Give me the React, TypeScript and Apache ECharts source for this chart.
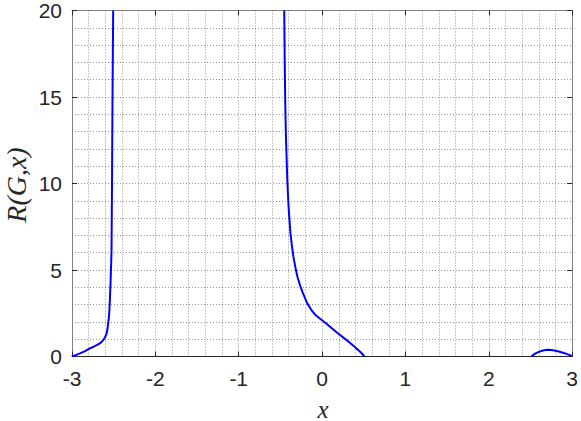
import React, { useEffect, useRef } from "react";
import * as echarts from "echarts";

const xTicks = [-3, -2, -1, 0, 1, 2, 3];
const yTicks = [0, 5, 10, 15, 20];

const leftX = [-3, -2.95, -2.904, -2.85, -2.785, -2.735, -2.685, -2.65, -2.626, -2.605, -2.585, -2.574, -2.566, -2.559, -2.554, -2.546, -2.538, -2.532, -2.526, -2.523, -2.52, -2.517, -2.514, -2.51, -2.506];
const leftY = [0, 0.09, 0.18, 0.3, 0.47, 0.58, 0.7, 0.82, 0.95, 1.1, 1.33, 1.6, 1.91, 2.2, 2.48, 3.2, 4.2, 5.1, 6.1, 8, 10, 12.5, 15, 17.5, 20];

const midX = [-0.454, -0.448, -0.442, -0.435, -0.427, -0.418, -0.406, -0.393, -0.379, -0.362, -0.345, -0.32, -0.295, -0.265, -0.235, -0.205, -0.176, -0.13, -0.076, 0.0, 0.06, 0.12, 0.2, 0.283, 0.34, 0.403, 0.46, 0.51];
const midY = [20, 17, 14.7, 13, 11.7, 10.3, 9.0, 8.0, 7.1, 6.4, 5.8, 5.15, 4.6, 4.12, 3.72, 3.37, 3.06, 2.7, 2.38, 2.1, 1.86, 1.62, 1.3, 0.99, 0.76, 0.51, 0.26, 0];

const rightX = [2.51, 2.55, 2.6, 2.65, 2.7, 2.75, 2.8, 2.85, 2.9, 2.95, 3.0];
const rightY = [0, 0.15, 0.27, 0.35, 0.39, 0.38, 0.33, 0.27, 0.2, 0.12, 0.02];

const pairs = (xs: number[], ys: number[]) => xs.map((x, i) => [x, ys[i]]);

export default function App() {
  const ref = useRef<HTMLDivElement>(null);
  useEffect(() => {
    if (!ref.current) return;
    const chart = echarts.init(ref.current, null, { renderer: "svg" });
    const gridStyle = { color: "rgba(38,38,38,0.5)", type: [1, 2] as any, width: 1 };
    const font = "Liberation Sans";
    const mkLine = (data: number[][]) => ({
      type: "line",
      data,
      showSymbol: false,
      smooth: false,
      lineStyle: { color: "#0000FF", width: 2 },
      clip: true,
    });
    chart.setOption({
      animation: false,
      grid: { left: 72, top: 8, width: 502, height: 348.5, containLabel: false },
      xAxis: [
        {
          type: "value",
          min: xTicks[0],
          max: xTicks[xTicks.length - 1],
          interval: 1,
          position: "bottom",
          axisLine: { show: true, onZero: false, lineStyle: { color: "#262626", width: 1 } },
          axisTick: { show: true, inside: true, length: 5, lineStyle: { color: "#262626" } },
          axisLabel: { color: "#262626", fontSize: 21, fontFamily: font, margin: 11, formatter: (v: number) => String(v) },
          splitLine: { show: true, lineStyle: gridStyle },
          minorTick: { show: false, splitNumber: 5 },
          minorSplitLine: { show: true, lineStyle: gridStyle },
        },
        {
          type: "value",
          min: xTicks[0],
          max: xTicks[xTicks.length - 1],
          interval: 1,
          position: "top",
          axisLine: { show: true, onZero: false, lineStyle: { color: "#808080", width: 1 } },
          axisTick: { show: true, inside: true, length: 5, lineStyle: { color: "#262626" } },
          axisLabel: { show: false },
          splitLine: { show: false },
        },
      ],
      yAxis: [
        {
          type: "value",
          min: yTicks[0],
          max: yTicks[yTicks.length - 1],
          interval: 5,
          position: "left",
          axisLine: { show: true, onZero: false, lineStyle: { color: "#808080", width: 1 } },
          axisTick: { show: true, inside: true, length: 5, lineStyle: { color: "#262626" } },
          axisLabel: { color: "#262626", fontSize: 21, fontFamily: font, margin: 10 },
          splitLine: { show: true, lineStyle: gridStyle },
          minorTick: { show: false, splitNumber: 5 },
          minorSplitLine: { show: true, lineStyle: gridStyle },
        },
        {
          type: "value",
          min: yTicks[0],
          max: yTicks[yTicks.length - 1],
          interval: 5,
          position: "right",
          axisLine: { show: true, onZero: false, lineStyle: { color: "#808080", width: 1 } },
          axisTick: { show: true, inside: true, length: 5, lineStyle: { color: "#262626" } },
          axisLabel: { show: false },
          splitLine: { show: false },
        },
      ],
      graphic: [
        {
          type: "text",
          x: 323,
          y: 409,
          style: { text: "x", font: 'italic 25px "Liberation Serif"', fill: "#262626", textAlign: "center", textVerticalAlign: "middle" },
        },
        {
          type: "text",
          x: 16,
          y: 185,
          rotation: Math.PI / 2,
          style: { text: "R(G,x)", font: 'italic 28px "Liberation Serif"', fill: "#262626", textAlign: "center", textVerticalAlign: "middle" },
        },
      ],
      series: [mkLine(pairs(leftX, leftY)), mkLine(pairs(midX, midY)), mkLine(pairs(rightX, rightY))],
    });
    return () => chart.dispose();
  }, []);
  return <div ref={ref} style={{ position: "fixed", left: 0, top: 0, width: 581, height: 421, background: "#fff" }} />;
}
